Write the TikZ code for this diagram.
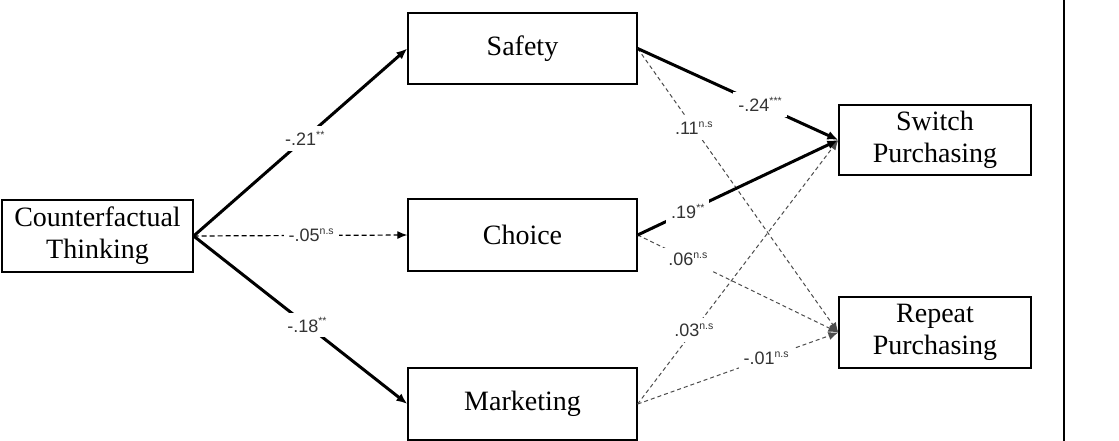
\documentclass[tikz,border=0pt]{standalone}
\usepackage{fontspec}
\setmainfont{Liberation Serif}
\newfontfamily\lblfamily{Liberation Sans}
\usetikzlibrary{arrows.meta}
\newcommand\supx[1]{\raisebox{0.78ex}{\fontsize{10.5}{10.5}\selectfont #1}}
\tikzset{
  box/.style={draw, line width=1.3pt, rectangle, align=center, inner sep=0pt,
    font=\fontsize{28}{32}\selectfont},
  strong/.style={line width=3pt, -{Latex[length=11pt,width=9pt]}},
  weak/.style={line width=1pt, draw=black!70, dash pattern=on 4pt off 3pt, -{Latex[length=10pt,width=8pt]}},
  weakdark/.style={line width=1.2pt, draw=black, dash pattern=on 5pt off 3pt, -{Latex[length=10pt,width=8pt]}},
  lbl/.style={fill=white, inner sep=5pt, text=black!80, font=\lblfamily\fontsize{18}{18}\selectfont},
}
\begin{document}
\begin{tikzpicture}[x=1pt,y=-1pt]
\useasboundingbox (0,0) rectangle (1119,441);
\node[box, minimum width=191pt, minimum height=72pt] (ct) at (97.5,236) {Counterfactual\\Thinking};
\node[box, minimum width=229pt, minimum height=71pt] (safe) at (522.5,48.5) {Safety};
\node[box, minimum width=229pt, minimum height=72pt] (choice) at (522.5,235) {Choice};
\node[box, minimum width=229pt, minimum height=72pt] (mkt) at (522.5,404) {Marketing};
\node[box, minimum width=192pt, minimum height=70pt] (sw) at (935,140) {Switch\\Purchasing};
\node[box, minimum width=192pt, minimum height=71pt] (rp) at (935,332.5) {Repeat\\Purchasing};
\coordinate (ft) at (1064,0);
\coordinate (fb) at (1064,441);
\draw[line width=2pt] (ft) -- (fb);

\draw[weak] (safe.east) -- node[lbl, pos=0.28] {.11\supx{n.s}} (rp.west);
\draw[weak] (choice.east) -- node[lbl, pos=0.25] {.06\supx{n.s}} (rp.west);
\draw[weak] (mkt.east) -- node[lbl, pos=0.28] {.03\supx{n.s}} (sw.west);
\draw[weak] (mkt.east) -- node[lbl, pos=0.64] {-.01\supx{n.s}} (rp.west);

\draw[strong] (ct.east) -- node[lbl, pos=0.52] {-.21\supx{**}} (safe.west);
\draw[weakdark] (ct.east) -- node[lbl, pos=0.55] {-.05\supx{n.s}} (choice.west);
\draw[strong] (ct.east) -- node[lbl, pos=0.53] {-.18\supx{**}} (mkt.west);
\draw[strong] (safe.east) -- node[lbl, pos=0.61] {-.24\supx{***}} (sw.west);
\draw[strong] (choice.east) -- node[lbl, pos=0.25] {.19\supx{**}} (sw.west);
\end{tikzpicture}
\end{document}
